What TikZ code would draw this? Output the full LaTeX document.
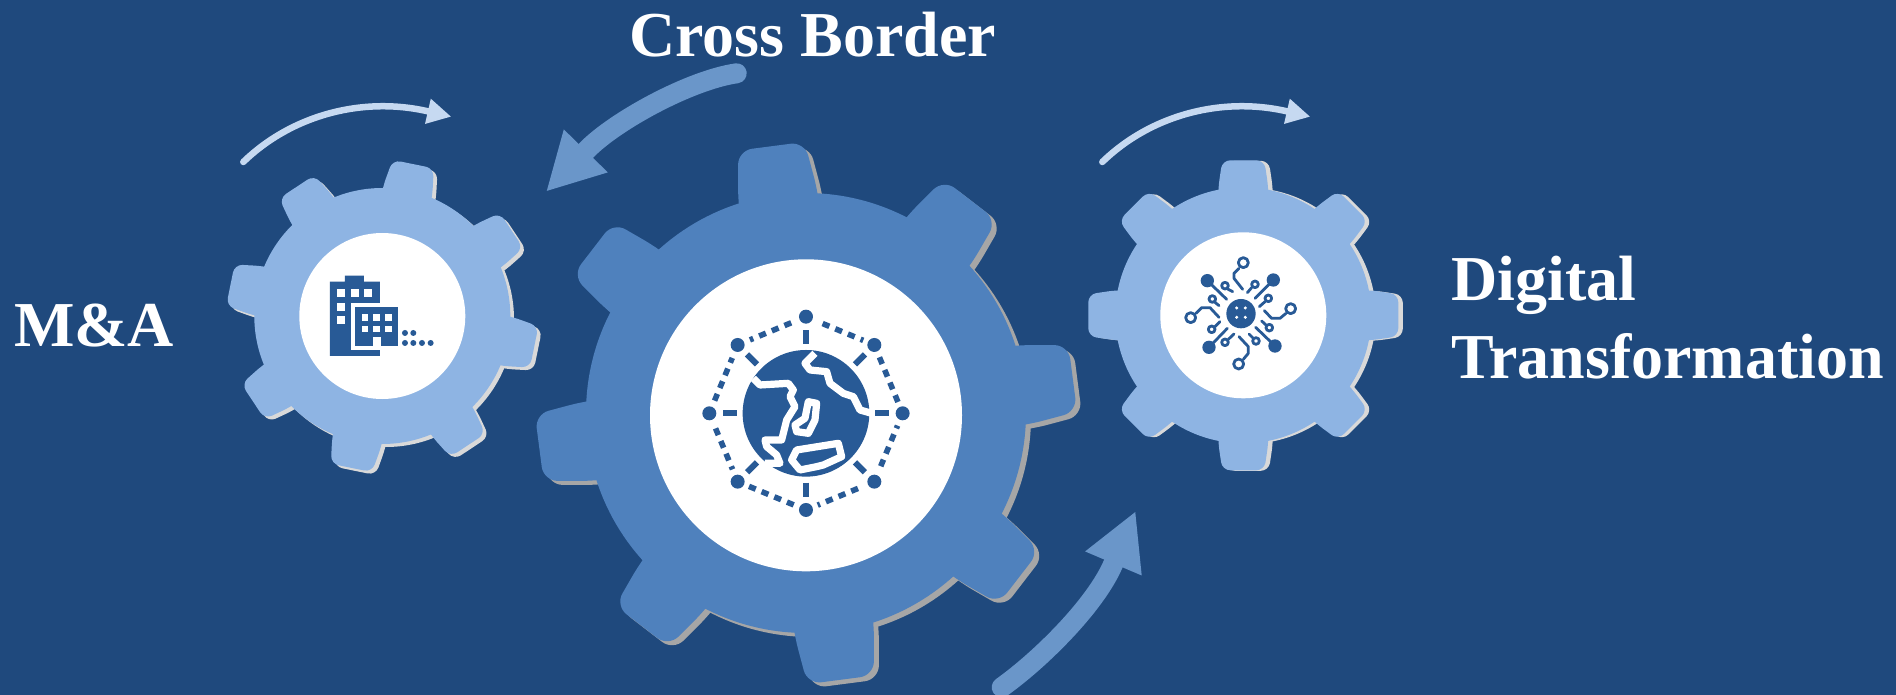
\documentclass[tikz,border=0pt]{standalone}
\usepackage{fontspec}
\setmainfont{Liberation Serif}
\usetikzlibrary{arrows.meta}
\definecolor{bgblue}{HTML}{1F497D}
\definecolor{midblue}{HTML}{4F81BD}
\definecolor{lightblue}{HTML}{8EB4E3}
\definecolor{iconblue}{HTML}{285A96}
\definecolor{paleblue}{HTML}{C6D9F1}
\definecolor{bigarrow}{HTML}{6A96C9}
\definecolor{shadowgrey}{HTML}{A6A6A6}
\definecolor{shadowpale}{HTML}{D9D9D9}
\tikzset{
  bigtext/.style={text=white, inner sep=0pt, font=\fontsize{64}{78}\selectfont\bfseries},
  thinarrow/.style={paleblue, line width=6.5pt, line cap=round, -{Triangle[length=24pt,width=24pt]}},
  fatarrow/.style={bigarrow, line width=20pt, line cap=round, -{Triangle[length=57pt,width=57pt]}},
}
% centre x, centre y, body radius, tip radius, half tip, half base, turn, colour, corner
\newcommand{\gearwheel}[9]{
  \fill[#8] (#1,#2) circle (#3);
  \foreach \t in {0,45,...,315} {
    \fill[#8, rounded corners=#9pt, shift={(#1,#2)}, rotate=\t+#7]
      (#3-25,-#6) -- (#3,-#6) -- (#4,-#5) -- (#4,#5) -- (#3,#6) -- (#3-25,#6) -- cycle;
  }
}
\begin{document}
\begin{tikzpicture}[x=1pt, y=-1pt]
\useasboundingbox (0,0) rectangle (1896,695);
\clip (0,0) rectangle (1896,695);
\fill[bgblue] (0,0) rectangle (1896,695);

\gearwheel{386}{319}{128}{155}{21}{25}{78.5}{shadowpale}{8}
\gearwheel{382.3}{316}{128}{155}{21}{25}{78.5}{lightblue}{8}
\fill[white] (382.3,316) circle (83);

\gearwheel{1247.8}{315.8}{128}{155}{21}{25}{0}{shadowpale}{8}
\gearwheel{1243.3}{315.3}{128}{155}{21}{25}{0}{lightblue}{8}
\fill[white] (1243.3,315.3) circle (83);

\gearwheel{811}{417}{220}{269}{33.5}{40}{7.4}{shadowgrey}{14}
\gearwheel{806}{413}{220}{269}{33.5}{40}{7.4}{midblue}{14}
\fill[white] (806,415.3) circle (156);

\begin{scope}[shift={(220,90)}, scale=.3333]
  \fill[iconblue] (330,798) -- (330,575) -- (375,575) -- (375,557) -- (432,557)
    -- (432,575) -- (480,575) -- (480,798) -- cycle;
  \fill[white] (392,638) rectangle (548,780);
  \fill[iconblue] (405,652) rectangle (535,768);
  \fill[white] (460,742) rectangle (482,768);
  \foreach \x/\y in {352/598, 392/598, 433/598, 352/638, 352/678}
    \fill[white] (\x,\y) rectangle +(24,24);
  \foreach \x/\y in {425/672, 460/672, 496/672, 425/707, 460/707, 496/707}
    \fill[white] (\x,\y) rectangle +(20,20);
  \foreach \x/\y in {555/729, 580/729, 555/759, 580/759, 606/759, 632/759}
    \fill[iconblue] (\x,\y) circle (9);
\end{scope}

\begin{scope}[shift={(640,250)}, scale=.3333]
  \fill[iconblue] (498,490) circle (190);
  \begin{scope}[white, line width=7.2pt, line join=round]
    \draw (525,310) -- (495,340) -- (510,360) -- (560,365) -- (570,400) -- (610,430)
      -- (640,440) -- (660,480) -- (695,490);
    \draw (340,385) -- (360,405) -- (445,400) -- (460,420) -- (450,440) -- (465,470)
      -- (440,510) -- (425,570) -- (375,570) -- (380,590) -- (410,615) -- (420,640) -- (375,640);
    \draw (505,455) -- (530,460) -- (525,510) -- (505,550) -- (470,545) -- (465,525)
      -- (495,505) -- cycle;
    \draw (470,600) -- (595,580) -- (605,620) -- (550,645) -- (530,650) -- (480,660)
      -- (455,630) -- cycle;
  \end{scope}
  \begin{scope}[shift={(498,490)}]
    \foreach \i in {0,...,7} {
      \coordinate (n\i) at (\i*45:290);
      \fill[iconblue] (n\i) circle (21);
      \draw[iconblue, line width=6pt] (\i*45:208) -- (\i*45:250);
    }
    \foreach \a/\b/\s/\e/\p in {6/7/18/12/0, 7/0/13.3/12/0, 0/1/13.3/16.7/4.3, 1/2/17.7/12.7/0,
        2/3/13.3/12.3/0, 3/4/13.3/16.3/4, 4/5/13.7/14/0, 5/6/13.3/16/3.7}
      \draw[iconblue, line width=5.6pt, dash pattern=on 7.3pt off 6.4pt, dash phase=\p pt,
        shorten <=\s pt, shorten >=\e pt] (n\a) -- (n\b);
  \end{scope}
\end{scope}

\begin{scope}[shift={(1170,240)}, scale=.3333]
  \fill[iconblue] (213,221) circle (44);
  \foreach \x/\y in {200/204, 226/204, 200/232, 226/232}
    \fill[white] (\x,\y) circle (5);
  \begin{scope}[iconblue, line width=2.8pt, line join=round, line cap=round]
    \foreach \x/\y/\u/\v in {112/122/170/178, 310/120/255/175, 315/318/257/262, 117/322/172/265} {
      \fill (\x,\y) circle (20);
      \draw (\x,\y) -- (\u,\v);
    }
    \foreach \x/\y in {220/68, 362/206, 206/372, 62/233}
      \draw (\x,\y) circle (15);
    \draw (207,85) -- (192,100) -- (192,115) -- (218,148);
    \draw (348,220) -- (330,235) -- (305,235) -- (283,212);
    \draw (220,358) -- (235,340) -- (235,320) -- (207,290);
    \draw (78,220) -- (95,203) -- (120,203) -- (147,232);
    \foreach \x/\y in {165/137, 255/133, 295/175, 298/263, 258/303, 165/307, 125/268, 127/177}
      \draw (\x,\y) circle (10);
    \draw (173,147) -- (188,155);
    \draw (245,143) -- (232,158);
    \draw (285,185) -- (268,200);
    \draw (288,255) -- (275,243);
    \draw (250,295) -- (237,282);
    \draw (175,298) -- (192,282);
    \draw (135,260) -- (150,245);
    \draw (135,187) -- (147,197);
  \end{scope}
\end{scope}

\coordinate (leftA) at (243.3,162);
\coordinate (leftB) at (427.8,111.3);
\coordinate (leftC) at (451.3,116.7);
\draw[thinarrow] (leftA) .. controls (291.7,115) and (362.7,96.3) .. (leftB) -- (leftC);
\coordinate (rightA) at (1102.3,162);
\coordinate (rightB) at (1286.8,111.3);
\coordinate (rightC) at (1310.3,116.7);
\draw[thinarrow] (rightA) .. controls (1150.7,115) and (1221.7,96.3) .. (rightB) -- (rightC);

\coordinate (crossA) at (736.7,73.3);
\coordinate (crossB) at (586.7,150);
\coordinate (crossC) at (546,191.7);
\draw[fatarrow] (crossA) .. controls (690,80) and (614.8,121.2) .. (crossB) -- (crossC);
\coordinate (digiA) at (1001.7,687.3);
\coordinate (digiB) at (1113.3,563.7);
\coordinate (digiC) at (1135.7,511);
\draw[fatarrow] (digiA) .. controls (1040,660) and (1095.6,605.3) .. (digiB) -- (digiC);

\node[bigtext, anchor=base west] (cross) at (629,57) {Cross Border};
\node[bigtext, anchor=base west] (mna) at (14,346) {M\&A};
\node[bigtext, anchor=north west, align=left] (digital) at (1451,256) {Digital\\Transformation};
\end{tikzpicture}
\end{document}
